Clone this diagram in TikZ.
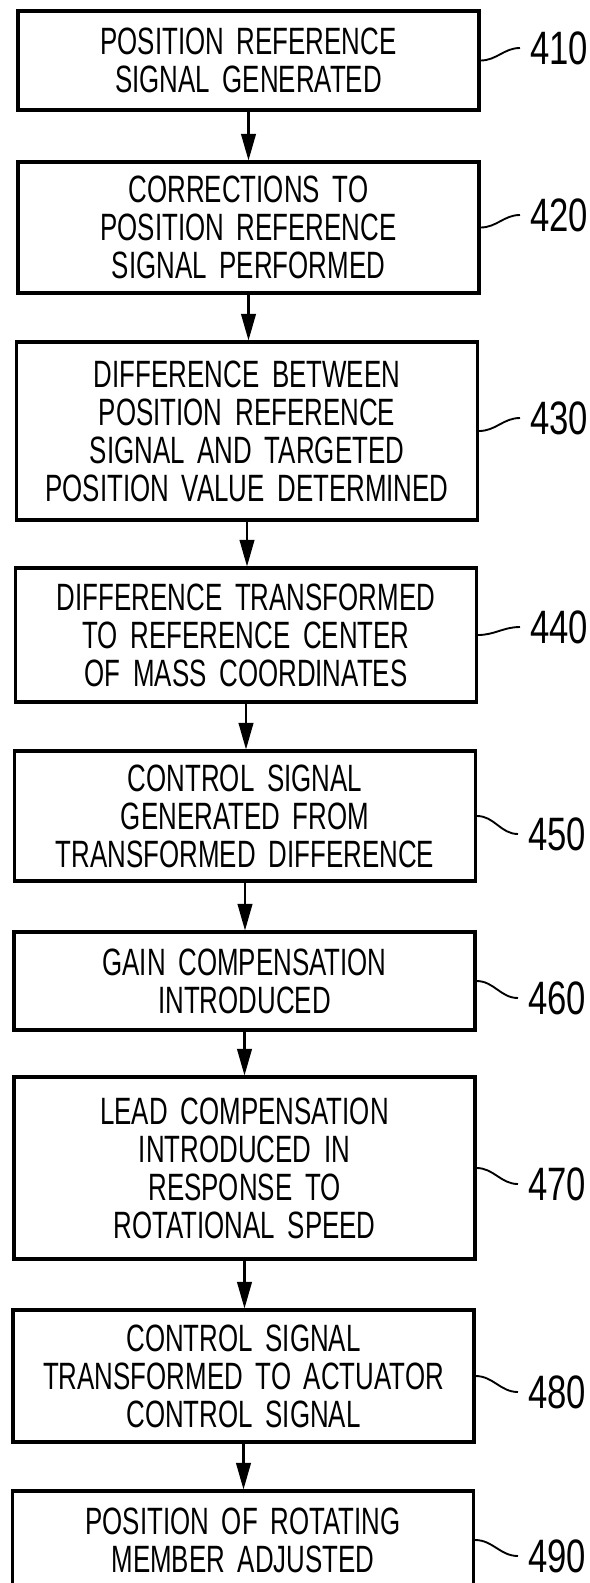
\documentclass[tikz,border=0pt]{standalone}
\usepackage{fontspec}
\setmainfont{Liberation Sans}[FakeStretch=0.68,WordSpace=3.2]
\newfontfamily\labelfont{Liberation Sans}[FakeStretch=0.74]
\usetikzlibrary{positioning,arrows.meta}

\begin{document}
\begin{tikzpicture}[x=0.03cm, y=-0.03cm,
					stepbox/.style={
						draw=black, line width=2.6pt,
						minimum width=13.83cm, text width=13.5cm,
						align=center, inner sep=0pt,
						font=\fontsize{32.5}{32.5}\selectfont
					},
					flowarrow/.style={line width=1.8pt, -{Triangle[length=8mm,width=4.4mm]}},
					leadline/.style={line width=1.6pt},
					reflabel/.style={anchor=west, inner xsep=0.3cm, inner ysep=0pt, font=\labelfont\fontsize{40}{40}\selectfont}
					]
					\clip (0,0) rectangle (590,1583);
					% Các bước của lưu đồ, từ trên xuống
					\node[stepbox, minimum height=2.97cm] (b410) at (248.5,60.5)  {POSITION REFERENCE\\SIGNAL GENERATED};
					\node[stepbox, minimum height=3.93cm] (b420) at (248.5,227.5) {CORRECTIONS TO\\POSITION REFERENCE\\SIGNAL PERFORMED};
					\node[stepbox, minimum height=5.34cm] (b430) at (247,431)     {DIFFERENCE BETWEEN\\POSITION REFERENCE\\SIGNAL AND TARGETED\\POSITION VALUE DETERMINED};
					\node[stepbox, minimum height=4.02cm] (b440) at (246,635)     {DIFFERENCE TRANSFORMED\\TO REFERENCE CENTER\\OF MASS COORDINATES};
					\node[stepbox, minimum height=3.90cm] (b450) at (245,816)     {CONTROL SIGNAL\\GENERATED FROM\\TRANSFORMED DIFFERENCE};
					\node[stepbox, minimum height=2.94cm] (b460) at (244.5,981)   {GAIN COMPENSATION\\INTRODUCED};
					\node[stepbox, minimum height=5.46cm] (b470) at (244.5,1168)  {LEAD COMPENSATION\\INTRODUCED IN\\RESPONSE TO\\ROTATIONAL SPEED};
					\node[stepbox, minimum height=3.96cm] (b480) at (243.5,1376)  {CONTROL SIGNAL\\TRANSFORMED TO ACTUATOR\\CONTROL SIGNAL};
					\node[stepbox, minimum height=2.94cm] (b490) at (243,1540)    {POSITION OF ROTATING\\MEMBER ADJUSTED};

					% Mũi tên nối các bước
					\draw[flowarrow] (b410.south) -- (b410.south |- b420.north);
					\draw[flowarrow] (b420.south) -- (b420.south |- b430.north);
					\draw[flowarrow] (b430.south) -- (b430.south |- b440.north);
					\draw[flowarrow] (b440.south) -- (b440.south |- b450.north);
					\draw[flowarrow] (b450.south) -- (b450.south |- b460.north);
					\draw[flowarrow] (b460.south) -- (b460.south |- b470.north);
					\draw[flowarrow] (b470.south) -- (b470.south |- b480.north);
					\draw[flowarrow] (b480.south) -- (b480.south |- b490.north);

					% Số tham chiếu
					\node[reflabel] (l410) at (520,48)   {410};
					\node[reflabel] (l420) at (520,215)  {420};
					\node[reflabel] (l430) at (520,418)  {430};
					\node[reflabel] (l440) at (520,627)  {440};
					\node[reflabel] (l450) at (518,834)  {450};
					\node[reflabel] (l460) at (518,998)  {460};
					\node[reflabel] (l470) at (518,1184) {470};
					\node[reflabel] (l480) at (518,1392) {480};
					\node[reflabel] (l490) at (518,1556) {490};
					\draw[leadline] (b410.east) to[out=0,in=180] (l410.west);
					\draw[leadline] (b420.east) to[out=0,in=180] (l420.west);
					\draw[leadline] (b430.east) to[out=0,in=180] (l430.west);
					\draw[leadline] (b440.east) to[out=0,in=180] (l440.west);
					\draw[leadline] (b450.east) to[out=0,in=180] (l450.west);
					\draw[leadline] (b460.east) to[out=0,in=180] (l460.west);
					\draw[leadline] (b470.east) to[out=0,in=180] (l470.west);
					\draw[leadline] (b480.east) to[out=0,in=180] (l480.west);
					\draw[leadline] (b490.east) to[out=0,in=180] (l490.west);
				\end{tikzpicture}
\end{document}
